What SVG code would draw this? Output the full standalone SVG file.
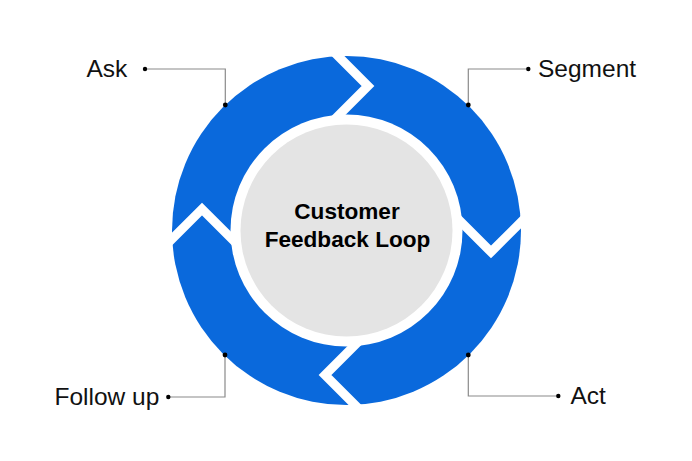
<svg xmlns="http://www.w3.org/2000/svg" width="692" height="461" viewBox="0 0 692 461">
<style>
.lbl{font-family:"Liberation Sans",Arial,sans-serif;font-size:24.5px;fill:#111}
.ttl{font-family:"Liberation Sans",Arial,sans-serif;font-size:22.6px;font-weight:bold;fill:#000;text-anchor:middle}
.lead{fill:none;stroke:#8a8a8a;stroke-width:1.2}
.dot{fill:#000}
.gap{fill:none;stroke:#fff;stroke-width:9;stroke-linejoin:miter}
</style>
<rect width="692" height="461" fill="#fff"/>
<g id="ring">
<circle cx="346.5" cy="230.5" r="174.5" fill="#0a69dc"/>
<g id="gaps">
<polyline class="gap" points="327,45 368,86 327,127"/>
<polyline class="gap" points="327,45 368,86 327,127" transform="rotate(90 346.5 230.5)"/>
<polyline class="gap" points="327,45 368,86 327,127" transform="rotate(180 346.5 230.5)"/>
<polyline class="gap" points="327,45 368,86 327,127" transform="rotate(270 346.5 230.5)"/>
</g>
<circle cx="346.5" cy="230.5" r="116" fill="#fff"/>
</g>
<g id="center">
<circle cx="346.5" cy="230.5" r="106" fill="#e4e4e4"/>
<text class="ttl" x="347" y="218.5">Customer</text>
<text class="ttl" x="347.5" y="246.5">Feedback Loop</text>
</g>
<g id="connectors">
<polyline class="lead" points="145,69 225.3,69 225.3,105"/>
<polyline class="lead" points="528.3,69 468.3,69 468.3,105"/>
<polyline class="lead" points="168.3,397 225,397 225,355"/>
<polyline class="lead" points="558.3,396 468.3,396 468.3,355"/>
</g>
<g id="ask">
<circle class="dot" cx="145" cy="69" r="2.2"/>
<circle class="dot" cx="225.3" cy="105" r="2.4"/>
<text class="lbl" x="86.5" y="77" >Ask</text>
</g>
<g id="segment">
<circle class="dot" cx="528.3" cy="69" r="2.2"/>
<circle class="dot" cx="468.3" cy="105" r="2.4"/>
<text class="lbl" x="538" y="77">Segment</text>
</g>
<g id="followup">
<circle class="dot" cx="168.3" cy="397" r="2.2"/>
<circle class="dot" cx="225" cy="355" r="2.4"/>
<text class="lbl" x="54.5" y="405">Follow up</text>
</g>
<g id="act">
<circle class="dot" cx="558.3" cy="396" r="2.2"/>
<circle class="dot" cx="468.3" cy="355" r="2.4"/>
<text class="lbl" x="570.5" y="404">Act</text>
</g>
</svg>
